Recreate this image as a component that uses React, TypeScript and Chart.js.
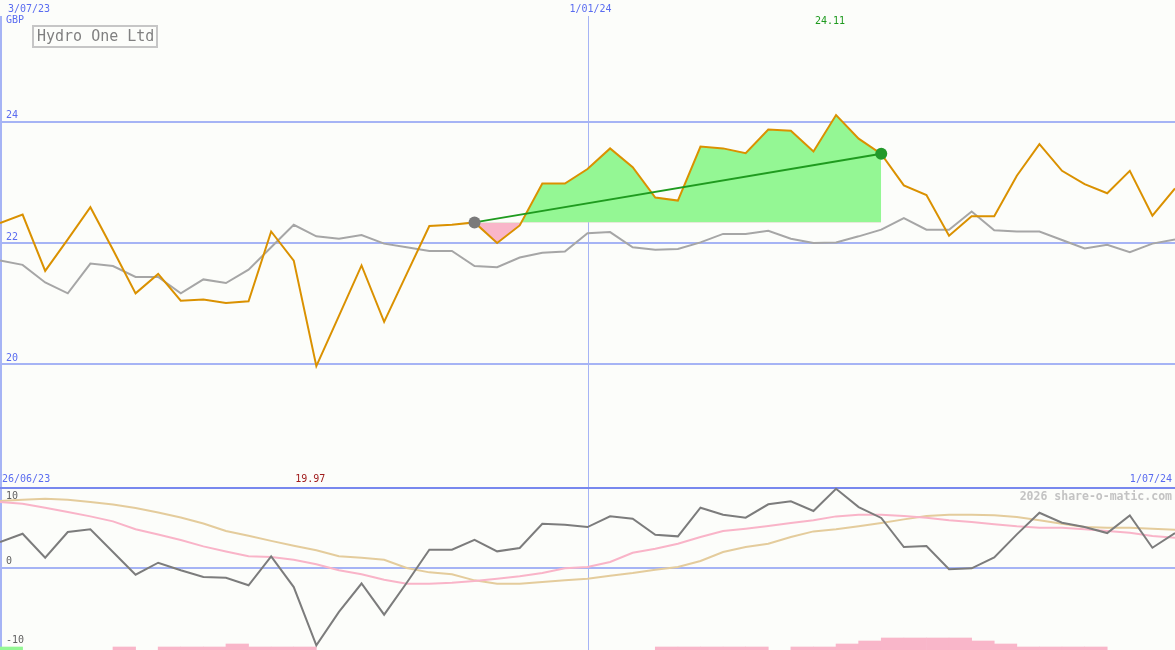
import { useEffect, useRef } from "react";
import { Chart, registerables } from "chart.js";

Chart.register(...registerables);

// weekly closes, 3/07/23 .. 1/07/24
const CLOSE = [
  22.33, 22.47, 21.54, 22.06, 22.59, 21.89, 21.17, 21.49, 21.05, 21.07,
  21.01, 21.04, 22.19, 21.71, 19.97, 20.8, 21.63, 20.7, 21.49, 22.28,
  22.3, 22.34, 22.0, 22.29, 22.98, 22.98, 23.22, 23.56, 23.25, 22.75,
  22.7, 23.59, 23.56, 23.48, 23.87, 23.85, 23.51, 24.11, 23.72, 23.47,
  22.95, 22.79, 22.12, 22.44, 22.44, 23.11, 23.63, 23.19, 22.97, 22.82,
  23.19, 22.45, 22.9,
];
const AVERAGE = [
  21.71, 21.64, 21.35, 21.17, 21.66, 21.62, 21.44, 21.44, 21.17, 21.4,
  21.34, 21.56, 21.93, 22.3, 22.11, 22.07, 22.13, 21.99, 21.93, 21.87,
  21.87, 21.62, 21.6, 21.76, 21.84, 21.86, 22.16, 22.18, 21.93, 21.89,
  21.9, 22.01, 22.15, 22.15, 22.2, 22.07, 22.0, 22.01, 22.11, 22.22,
  22.41, 22.22, 22.22, 22.52, 22.21, 22.19, 22.19, 22.05, 21.91, 21.97,
  21.85, 21.99, 22.06,
];
const MOMENTUM = [
  3.25, 4.3, 1.27, 4.52, 4.86, 1.99, -0.89, 0.63, -0.33, -1.18,
  -1.27, -2.23, 1.44, -2.45, -9.83, -5.6, -2.0, -5.95, -1.9, 2.28,
  2.28, 3.54, 2.07, 2.49, 5.57, 5.44, 5.15, 6.5, 6.2, 4.18,
  3.97, 7.6, 6.71, 6.33, 8.03, 8.4, 7.18, 10.0, 7.68, 6.3,
  2.62, 2.75, -0.2, -0.08, 1.31, 4.22, 6.96, 5.7, 5.15, 4.39,
  6.63, 2.53, 4.39,
];
const MOMENTUM_FAST = [
  8.32, 8.1, 7.6, 7.05, 6.5, 5.87, 4.87, 4.2, 3.5, 2.7,
  2.05, 1.44, 1.35, 1.01, 0.43, -0.33, -0.84, -1.52, -2.03, -2.03,
  -1.9, -1.68, -1.39, -1.09, -0.67, -0.08, 0.09, 0.72, 1.9, 2.4,
  3.04, 3.89, 4.65, 4.94, 5.28, 5.66, 6.0, 6.5, 6.71, 6.71,
  6.54, 6.33, 6.0, 5.78, 5.49, 5.24, 5.06, 5.06, 4.86, 4.65,
  4.43, 4.01, 3.8,
];
const MOMENTUM_SLOW = [
  8.44, 8.61, 8.74, 8.61, 8.32, 8.0, 7.55, 7.0, 6.35, 5.6,
  4.65, 4.05, 3.4, 2.77, 2.2, 1.44, 1.27, 1.01, -0.04, -0.59,
  -0.84, -1.6, -2.03, -2.03, -1.81, -1.6, -1.39, -1.01, -0.67, -0.25,
  0.09, 0.85, 1.99, 2.62, 3.04, 3.89, 4.6, 4.86, 5.24, 5.66,
  6.12, 6.54, 6.71, 6.71, 6.63, 6.42, 6.0, 5.57, 5.15, 5.06,
  5.06, 4.94, 4.81,
];
// signed strength bars along the bottom edge
const HIST = [
  1, 0, 0, 0, 0, -1, 0, -1, -1, -1,
  -2, -1, -1, -1, 0, 0, 0, 0, 0, 0,
  0, 0, 0, 0, 0, 0, 0, 0, 0, -1,
  -1, -1, -1, -1, 0, -1, -1, -2, -3, -4,
  -4, -4, -4, -3, -2, -1, -1, -1, -1, 0,
  0, 0, 0,
];

const PRICE_TICKS = [20, 22, 24];
const OSC_TICKS = [10, 0, -10];
const OSC_GRID = [0];
const MID_WEEK = 26;
const MID_DATE = "1/01/24";
const FIRST_DATE = "3/07/23";
const RANGE_FROM = "26/06/23";
const RANGE_TO = "1/07/24";
const CURRENCY = "GBP";
const TITLE = "Hydro One Ltd";
const WATERMARK = "2026 share-o-matic.com";
const TREND_FROM = 21;
const TREND_TO = 39;

const BG = "#fcfdfa";
const GRID = "#a6b4f5";
const FRAME = "#7888ee";
const BLUE_TEXT = "#5a6cf0";
const FONT = "10px 'DejaVu Sans Mono', monospace";
const LAST = CLOSE.length - 1;

const pts = (arr: number[]) => arr.map((y, x) => ({ x, y }));
const clamp = (v: number, lo: number, hi: number) => Math.min(Math.max(v, lo), hi);

function xAxis() {
  return {
    type: "linear",
    min: 0,
    max: LAST,
    offset: false,
    grid: { display: false, offset: false },
    border: { display: false },
    ticks: { display: false },
    afterBuildTicks: (s: any) => {
      s.ticks = [{ value: MID_WEEK }];
    },
    afterFit: (s: any) => {
      s.height = 0;
    },
  };
}

function valueAxis(min: number, max: number, grid: number[]) {
  return {
    min,
    max,
    grid: { color: GRID, lineWidth: 2, drawTicks: false },
    border: { display: false },
    ticks: { display: false },
    afterBuildTicks: (s: any) => {
      s.ticks = grid.map((value) => ({ value }));
    },
    afterFit: (s: any) => {
      s.width = 0;
    },
  };
}

// left frame edge and the 1/01/24 divider, both taken from the scales
function drawFrame(chart: any) {
  const { ctx, chartArea: a } = chart;
  const px = Math.round(chart.scales.x.getPixelForValue(MID_WEEK));
  ctx.fillStyle = GRID;
  ctx.fillRect(a.left, a.top, 2, a.bottom - a.top);
  ctx.fillRect(px, a.top, 1, a.bottom - a.top);
}

function drawAxisLabels(chart: any, ticks: number[], color: string) {
  const { ctx, chartArea: a } = chart;
  const y = chart.scales.y;
  ctx.fillStyle = color;
  ctx.textAlign = "left";
  ticks.forEach((v) => {
    const py = clamp(y.getPixelForValue(v) - 6, a.top + 9, a.bottom - 8);
    ctx.fillText(String(v), a.left + 6, py);
  });
}

const priceDecor = {
  id: "priceDecor",
  beforeDatasetsDraw(chart: any) {
    chart.ctx.save();
    drawFrame(chart);
    chart.ctx.restore();
  },
  afterDraw(chart: any) {
    const { ctx, chartArea: a } = chart;
    const x = chart.scales.x;
    ctx.save();
    ctx.font = FONT;
    ctx.textBaseline = "middle";
    drawAxisLabels(chart, PRICE_TICKS, BLUE_TEXT);
    ctx.fillText(CURRENCY, a.left + 6, a.top + 4);
    ctx.fillText(FIRST_DATE, a.left + 8, a.top / 2 + 1);
    ctx.fillText(RANGE_FROM, a.left + 2, a.bottom - 8);
    ctx.textAlign = "center";
    ctx.fillText(MID_DATE, x.getPixelForValue(MID_WEEK) + 3, a.top / 2 + 1);
    ctx.textAlign = "right";
    ctx.fillText(RANGE_TO, a.right - 3, a.bottom - 8);

    const hi = CLOSE.indexOf(Math.max(...CLOSE));
    const lo = CLOSE.indexOf(Math.min(...CLOSE));
    ctx.fillStyle = "#1e9a1e";
    ctx.fillText(CLOSE[hi].toFixed(2), x.getPixelForValue(hi) + 9, a.top + 5);
    ctx.fillStyle = "#a01c1c";
    ctx.fillText(CLOSE[lo].toFixed(2), x.getPixelForValue(lo) + 9, a.bottom - 8);
    ctx.restore();
  },
};

const oscDecor = {
  id: "oscDecor",
  beforeDatasetsDraw(chart: any) {
    const { ctx, chartArea: a } = chart;
    ctx.save();
    drawFrame(chart);
    ctx.fillStyle = FRAME;
    ctx.fillRect(a.left, a.top, a.right - a.left, 2);
    ctx.restore();
  },
  afterDraw(chart: any) {
    const { ctx } = chart;
    ctx.save();
    ctx.font = FONT;
    ctx.textBaseline = "middle";
    drawAxisLabels(chart, OSC_TICKS, "#606060");
    ctx.restore();
  },
};

const baseOptions = {
  responsive: true,
  maintainAspectRatio: false,
  animation: false,
  events: [],
  layout: { padding: 0, autoPadding: false },
  plugins: { legend: { display: false }, tooltip: { enabled: false } },
  elements: { point: { radius: 0 }, line: { tension: 0 } },
};

export default function App() {
  const topRef = useRef<HTMLCanvasElement>(null);
  const botRef = useRef<HTMLCanvasElement>(null);

  useEffect(() => {
    document.body.style.margin = "0";
    if (!topRef.current || !botRef.current) return;

    const start = CLOSE[TREND_FROM];
    const span = CLOSE.slice(TREND_FROM, TREND_TO + 1).map((y, i) => ({ x: TREND_FROM + i, y }));

    const top = new Chart(topRef.current, {
      type: "line",
      data: {
        datasets: [
          {
            data: [
              { x: TREND_FROM, y: start },
              { x: TREND_TO, y: CLOSE[TREND_TO] },
            ],
            borderColor: "#1f9b1f",
            borderWidth: 2,
            pointRadius: 6,
            pointBorderWidth: 0,
            pointBackgroundColor: ["#7a7a7a", "#22992a"],
            order: 0,
          },
          {
            data: pts(CLOSE),
            borderColor: "#da9100",
            borderWidth: 2,
            order: 1,
          },
          {
            data: span,
            borderColor: "transparent",
            borderWidth: 0,
            fill: { target: { value: start }, above: "#94f794", below: "#f9b6c9" },
            order: 2,
          },
          {
            data: pts(AVERAGE),
            borderColor: "#a6a6a6",
            borderWidth: 2,
            order: 3,
          },
        ],
      },
      options: {
        ...baseOptions,
        layout: { padding: { top: 16, left: 0, right: 0, bottom: 0 }, autoPadding: false },
        scales: {
          x: xAxis(),
          y: valueAxis(17.977, 25.743, PRICE_TICKS),
        },
      } as any,
      plugins: [priceDecor],
    });

    const bars = HIST.map((v, i) => ({ x: i + 0.5, y: Math.abs(v), up: v > 0 })).filter((b) => b.y > 0);

    const bottom = new Chart(botRef.current, {
      type: "line",
      data: {
        datasets: [
          { data: pts(MOMENTUM), borderColor: "#7c7c7c", borderWidth: 2, order: 0 },
          { data: pts(MOMENTUM_FAST), borderColor: "#f9b4c8", borderWidth: 2, order: 1 },
          { data: pts(MOMENTUM_SLOW), borderColor: "#e4cc9c", borderWidth: 2, order: 2 },
          {
            type: "bar",
            data: bars.map(({ x, y }) => ({ x, y })),
            backgroundColor: bars.map((b) => (b.up ? "#94f794" : "#f9b6c9")),
            borderWidth: 0,
            barPercentage: 1,
            categoryPercentage: 1,
            yAxisID: "yh",
            order: 3,
          },
        ],
      },
      options: {
        ...baseOptions,
        scales: {
          x: xAxis(),
          y: valueAxis(-10.42, 10.22, OSC_GRID),
          yh: { display: false, min: 0, max: 163 / 3 },
        },
      } as any,
      plugins: [oscDecor],
    });

    return () => {
      top.destroy();
      bottom.destroy();
    };
  }, []);

  return (
    <div style={{ position: "relative", width: 1175, height: 650, background: BG, overflow: "hidden" }}>
      <div style={{ position: "absolute", left: 0, top: 0, width: 1175, height: 487 }}>
        <canvas ref={topRef} />
      </div>
      <div style={{ position: "absolute", left: 0, top: 487, width: 1175, height: 163 }}>
        <canvas ref={botRef} />
      </div>
      <div
        style={{
          position: "absolute",
          left: 32,
          top: 25,
          width: 126,
          height: 23,
          boxSizing: "border-box",
          border: "2px solid #c6c6c6",
          paddingLeft: 3,
          font: "15px 'DejaVu Sans Mono', monospace",
          lineHeight: "19px",
          color: "#808080",
          whiteSpace: "nowrap",
        }}
      >
        {TITLE}
      </div>
      <div
        style={{
          position: "absolute",
          right: 3,
          top: 489,
          font: "bold 11.5px 'DejaVu Sans Mono', monospace",
          lineHeight: "14px",
          color: "#c3c3c3",
          whiteSpace: "nowrap",
        }}
      >
        {WATERMARK}
      </div>
    </div>
  );
}
